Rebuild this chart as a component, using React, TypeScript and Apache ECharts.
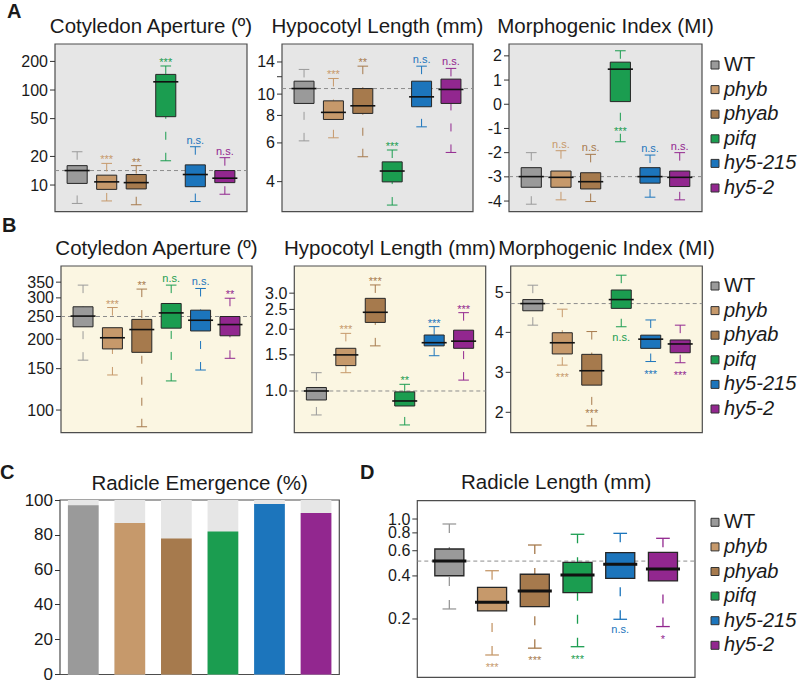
import React, { useEffect, useRef } from 'react';
import * as echarts from 'echarts';

const genotypes = ['WT', 'phyb', 'phyab', 'pifq', 'hy5-215', 'hy5-2'];
const fills = ['#9a9a9a', '#c6996b', '#a67a4d', '#1b9d50', '#1c75bc', '#92278f'];

// box statistics per genotype: [lower whisker, Q1, median, Q3, upper whisker]
const cotyledonDark = [
  [6.4, 10.4, 14.2, 16.0, 22.4],
  [6.8, 9.0, 10.8, 12.7, 16.9],
  [6.2, 9.1, 10.6, 12.9, 16.0],
  [18.0, 52.4, 122, 146, 179],
  [6.7, 9.6, 12.9, 16.3, 25.3],
  [8.0, 10.6, 11.8, 14.2, 19.4],
];
const hypocotylDark = [
  [6.13, 9.07, 10.6, 11.45, 12.95],
  [6.33, 7.67, 8.26, 9.32, 11.78],
  [5.19, 8.17, 8.85, 10.6, 13.4],
  [3.13, 3.99, 4.47, 4.92, 5.57],
  [7.1, 8.76, 9.72, 11.45, 13.4],
  [5.43, 9.07, 10.5, 11.7, 13.09],
];
const morphoDark = [
  [-4.13, -3.43, -2.99, -2.62, -2.0],
  [-3.95, -3.43, -3.02, -2.76, -1.92],
  [-4.02, -3.5, -3.2, -2.83, -2.07],
  [-1.55, 0.11, 1.45, 1.74, 2.21],
  [-3.84, -3.26, -2.99, -2.62, -2.1],
  [-3.95, -3.4, -3.02, -2.76, -2.0],
];
const cotyledonLight = [
  [163, 226, 251, 275, 340],
  [141, 182, 203, 224, 273],
  [84.9, 176, 220, 243, 327],
  [133, 223, 259, 284, 340],
  [148, 217, 241, 266, 329],
  [166, 207, 231, 250, 299],
];
const hypocotylLight = [
  [0.764, 0.904, 1.0, 1.04, 1.228],
  [1.228, 1.33, 1.5, 1.615, 1.91],
  [1.66, 2.16, 2.42, 2.83, 3.29],
  [0.683, 0.845, 0.894, 0.99, 1.078],
  [1.486, 1.66, 1.72, 1.875, 2.06],
  [1.13, 1.615, 1.75, 1.98, 2.41],
];
const morphoLight = [
  [4.18, 4.54, 4.72, 4.82, 5.18],
  [3.18, 3.46, 3.74, 3.99, 4.58],
  [1.66, 2.68, 3.04, 3.45, 4.02],
  [4.14, 4.6, 4.82, 5.06, 5.43],
  [3.27, 3.6, 3.83, 3.93, 4.31],
  [3.24, 3.49, 3.71, 3.81, 4.18],
];
const radicleEmergence = [97.0, 86.8, 77.9, 81.9, 97.7, 92.6];
const radicleLength = [
  [0.235, 0.401, 0.508, 0.617, 0.923],
  [0.112, 0.228, 0.262, 0.333, 0.435],
  [0.125, 0.244, 0.314, 0.411, 0.658],
  [0.128, 0.306, 0.406, 0.498, 0.782],
  [0.199, 0.385, 0.482, 0.582, 0.794],
  [0.177, 0.369, 0.447, 0.585, 0.733],
];

// WT reference (dashed line)
const refCotDark = 14.2;
const refHypDark = 10.6;
const refMorDark = -2.99;
const refCotLight = 250;
const refHypLight = 1.0;
const refMorLight = 4.72;
const refRadLen = 0.508;

// significance labels and where they sit ('top' | 'bottom' | value on axis)
const sigCotDark = ['', '***', '**', '***', 'n.s.', 'n.s.'];
const sigHypDark = ['', '***', '**', '***', 'n.s.', 'n.s.'];
const sigMorDark = ['', 'n.s.', 'n.s.', '***', 'n.s.', 'n.s.'];
const sigMorDarkPos: any[] = ['top', 'top', 'top', -1.0, 'top', 'top'];
const sigCotLight = ['', '***', '**', 'n.s.', 'n.s.', '**'];
const sigHypLight = ['', '***', '***', '**', '***', '***'];
const sigMorLight = ['', '***', '***', 'n.s.', '***', '***'];
const sigMorLightPos: any[] = ['bottom', 'bottom', 2.06, 'bottom', 'bottom', 'bottom'];
const sigRadLen = ['', '***', '***', '***', 'n.s.', '*'];
const sigRadLenPos: any[] = ['bottom', 'bottom', 'bottom', 'bottom', 'bottom', 'bottom'];

// tick values and labels
const ticksCotDark = [10, 20, 50, 100, 200];
const labelsCotDark = ['10', '20', '50', '100', '200'];
const ticksHypDark = [4, 6, 8, 10, 12, 14];
const labelsHypDark = ['4', '6', '8', '10', '', '14'];
const ticksMorDark = [-4, -3, -2, -1, 0, 1, 2];
const labelsMorDark = ['-4', '-3', '-2', '-1', '0', '1', '2'];
const ticksCotLight = [100, 150, 200, 250, 300, 350];
const labelsCotLight = ['100', '150', '200', '250', '300', '350'];
const ticksHypLight = [1.0, 1.5, 2.0, 2.5, 3.0];
const labelsHypLight = ['1.0', '1.5', '2.0', '2.5', '3.0'];
const ticksMorLight = [2, 3, 4, 5];
const labelsMorLight = ['2', '3', '4', '5'];
const ticksRadLen = [0.2, 0.4, 0.6, 0.8, 1.0];
const labelsRadLen = ['0.2', '0.4', '0.6', '0.8', '1.0'];

const FONT = '"Liberation Sans", Arial, sans-serif';
const XMIN = -0.75;
const XMAX = 5.75;
const BG_DARK = '#e6e6e6';
const BG_LIGHT = '#fbf6e2';

const boxPanels = [
  { title: 'Cotyledon Aperture (º)', stats: cotyledonDark, ref: refCotDark, sig: sigCotDark, sigPos: null, ticks: ticksCotDark, labels: labelsCotDark, log: true, min: 5.24, max: 305, left: 55, top: 44, width: 192, height: 167.7, bg: BG_DARK, thick: false },
  { title: 'Hypocotyl Length (mm)', stats: hypocotylDark, ref: refHypDark, sig: sigHypDark, sigPos: null, ticks: ticksHypDark, labels: labelsHypDark, log: true, min: 2.92, max: 16.9, left: 282, top: 44, width: 191, height: 167.7, bg: BG_DARK, thick: false },
  { title: 'Morphogenic Index (MI)', stats: morphoDark, ref: refMorDark, sig: sigMorDark, sigPos: sigMorDarkPos, ticks: ticksMorDark, labels: labelsMorDark, log: false, min: -4.44, max: 2.49, left: 509, top: 44, width: 193, height: 167.7, bg: BG_DARK, thick: false },
  { title: 'Cotyledon Aperture (º)', stats: cotyledonLight, ref: refCotLight, sig: sigCotLight, sigPos: null, ticks: ticksCotLight, labels: labelsCotLight, log: true, min: 80.1, max: 410, left: 61, top: 266, width: 191, height: 166.7, bg: BG_LIGHT, thick: false },
  { title: 'Hypocotyl Length (mm)', stats: hypocotylLight, ref: refHypLight, sig: sigHypLight, sigPos: null, ticks: ticksHypLight, labels: labelsHypLight, log: true, min: 0.626, max: 4.07, left: 294.3, top: 266, width: 191.4, height: 166.7, bg: BG_LIGHT, thick: false },
  { title: 'Morphogenic Index (MI)', stats: morphoLight, ref: refMorLight, sig: sigMorLight, sigPos: sigMorLightPos, ticks: ticksMorLight, labels: labelsMorLight, log: false, min: 1.49, max: 5.66, left: 510.7, top: 266, width: 191.6, height: 166.7, bg: BG_LIGHT, thick: false },
  { title: 'Radicle Length (mm)', stats: radicleLength, ref: refRadLen, sig: sigRadLen, sigPos: sigRadLenPos, ticks: ticksRadLen, labels: labelsRadLen, log: true, min: 0.0782, max: 1.343, left: 417.3, top: 500.7, width: 277.7, height: 176.6, bg: '#ffffff', thick: true },
];

function textEl(text: string, x: number, y: number, opts: any) {
  return {
    type: 'text',
    style: {
      text, x, y,
      fontFamily: FONT,
      fontSize: opts.size,
      fontStyle: opts.italic ? 'italic' : 'normal',
      fontWeight: opts.bold ? 'bold' : 'normal',
      fill: opts.color || '#1a1a1a',
      align: opts.align || 'left',
      verticalAlign: opts.valign || 'middle',
      textAlign: opts.align || 'left',
      textVerticalAlign: opts.valign || 'middle',
    },
  };
}

function buildOption() {
  const grid: any[] = [];
  const xAxis: any[] = [];
  const yAxis: any[] = [];
  const series: any[] = [];
  const graphic: any[] = [];

  boxPanels.forEach((p, gi) => {
    grid.push({ left: p.left, top: p.top, width: p.width, height: p.height, show: true, backgroundColor: p.bg, borderColor: '#4d4d4d', borderWidth: 1.2 });
    xAxis.push({ gridIndex: gi, type: 'value', min: XMIN, max: XMAX, show: false });
    yAxis.push({ gridIndex: gi, type: p.log ? 'log' : 'value', logBase: 10, min: p.min, max: p.max, show: false });
    graphic.push(textEl(p.title, p.left + p.width / 2, p.top - 19, { size: 20.5, align: 'center' }));

    // dashed reference line
    series.push({
      type: 'custom', xAxisIndex: gi, yAxisIndex: gi, clip: false, silent: true, z: 2,
      data: [[0, p.ref]],
      encode: { x: 0, y: 1 },
      renderItem: (params: any, api: any) => {
        const v = api.value(1);
        const a = api.coord([XMIN, v]);
        const b = api.coord([XMAX, v]);
        return { type: 'line', shape: { x1: a[0], y1: a[1], x2: b[0], y2: b[1] }, style: { stroke: '#8c8c8c', lineWidth: 1, lineDash: [4, 3] } };
      },
    });

    // boxes
    series.push({
      type: 'custom', xAxisIndex: gi, yAxisIndex: gi, clip: false, silent: true, z: 3,
      data: p.stats.map((s, i) => [i, s[0], s[1], s[2], s[3], s[4]]),
      encode: { x: 0, y: [1, 2, 3, 4, 5] },
      renderItem: (params: any, api: any) => {
        const idx = params.dataIndex;
        const i = api.value(0);
        const md = api.value(3);
        const c0 = api.coord([i, md]);
        const band = api.coord([i + 1, md])[0] - c0[0];
        const xc = c0[0];
        const yLo = api.coord([i, api.value(1)])[1];
        const yQ1 = api.coord([i, api.value(2)])[1];
        const yMd = c0[1];
        const yQ3 = api.coord([i, api.value(4)])[1];
        const yHi = api.coord([i, api.value(5)])[1];
        const bw = band * 0.34;
        const cw = band * (p.thick ? 0.16 : 0.18);
        const col = fills[idx];
        const wl = p.thick ? 1.3 : 1;
        const dash = p.thick ? [9, 14] : [8, 13];
        const children: any[] = [
          { type: 'line', shape: { x1: xc, y1: yHi, x2: xc, y2: yQ3 }, style: { stroke: col, lineWidth: wl, lineDash: dash } },
          { type: 'line', shape: { x1: xc - cw, y1: yHi, x2: xc + cw, y2: yHi }, style: { stroke: col, lineWidth: wl } },
          { type: 'line', shape: { x1: xc, y1: yLo, x2: xc, y2: yQ1 }, style: { stroke: col, lineWidth: wl, lineDash: dash } },
          { type: 'line', shape: { x1: xc - cw, y1: yLo, x2: xc + cw, y2: yLo }, style: { stroke: col, lineWidth: wl } },
          { type: 'rect', shape: { x: xc - bw, y: yQ3, width: bw * 2, height: yQ1 - yQ3 }, style: { fill: col, stroke: '#262626', lineWidth: p.thick ? 1.3 : 1 } },
          { type: 'line', shape: { x1: xc - bw - 2.5, y1: yMd, x2: xc + bw + 2.5, y2: yMd }, style: { stroke: '#111', lineWidth: p.thick ? 3 : 1.6 } },
        ];
        const s = p.sig[idx];
        if (s) {
          const pos = p.sigPos ? p.sigPos[idx] : 'top';
          const isStar = s.indexOf('*') >= 0;
          let ty: number;
          if (pos === 'top') ty = yHi - (isStar ? 4 : 7);
          else if (pos === 'bottom') ty = yLo + (isStar ? 12 : 10);
          else ty = api.coord([i, pos])[1] + (isStar ? 3 : 0);
          children.push(textEl(s, xc, ty, { size: 11, align: 'center', color: col }));
        }
        return { type: 'group', children };
      },
    });

    // y ticks and labels
    const labels = p.labels;
    series.push({
      type: 'custom', xAxisIndex: gi, yAxisIndex: gi, clip: false, silent: true, z: 3,
      data: p.ticks.map((v) => [XMIN, v]),
      encode: { x: 0, y: 1 },
      renderItem: (params: any, api: any) => {
        const pt = api.coord([api.value(0), api.value(1)]);
        return {
          type: 'group',
          children: [
            { type: 'line', shape: { x1: pt[0] - 5, y1: pt[1], x2: pt[0], y2: pt[1] }, style: { stroke: '#333', lineWidth: 1 } },
            textEl(labels[params.dataIndex], pt[0] - 7, pt[1], { size: 16, align: 'right' }),
          ],
        };
      },
    });
  });

  // Panel C: radicle emergence bars
  const gc = grid.length;
  grid.push({ left: 60, top: 500, width: 279.3, height: 176.7, show: true, backgroundColor: '#ffffff', borderColor: '#4d4d4d', borderWidth: 1.2 });
  xAxis.push({ gridIndex: gc, type: 'category', data: genotypes, axisLabel: { show: false }, axisTick: { show: false }, axisLine: { show: false } });
  yAxis.push({ gridIndex: gc, type: 'value', min: 0, max: 100, interval: 20, splitLine: { show: false }, axisLine: { show: false }, axisTick: { show: true, length: 5, lineStyle: { color: '#333' } }, axisLabel: { fontSize: 17, color: '#1a1a1a', fontFamily: FONT, margin: 7 } });
  series.push({
    type: 'bar', xAxisIndex: gc, yAxisIndex: gc, barWidth: '66%',
    showBackground: true, backgroundStyle: { color: '#e6e6e6' },
    data: radicleEmergence.map((v, i) => ({ value: v, itemStyle: { color: fills[i] } })),
  });
  graphic.push(textEl('Radicle Emergence (%)', 60 + 279.3 / 2, 482, { size: 20.5, align: 'center' }));

  // panel letters
  graphic.push(textEl('A', 7, 11, { size: 20, bold: true }));
  graphic.push(textEl('B', 2, 225, { size: 20, bold: true }));
  graphic.push(textEl('C', 0, 471.5, { size: 20, bold: true }));
  graphic.push(textEl('D', 360, 471.5, { size: 20, bold: true }));

  // legends
  const legendTops = [65, 286, 522.3];
  legendTops.forEach((y0) => {
    genotypes.forEach((g, i) => {
      const cy = y0 + i * 24.6;
      graphic.push({ type: 'rect', shape: { x: 711, y: cy - 4, width: 8, height: 8 }, style: { fill: fills[i], stroke: '#333', lineWidth: 1 } });
      graphic.push(textEl(g, 724, cy - 1, { size: 20, italic: i > 0 }));
    });
  });

  return {
    animation: false,
    textStyle: { fontFamily: FONT },
    grid, xAxis, yAxis, series, graphic,
  };
}

export default function App() {
  const ref = useRef<HTMLDivElement>(null);
  useEffect(() => {
    document.body.style.margin = '0';
    const chart = echarts.init(ref.current!, null, { renderer: 'svg' });
    chart.setOption(buildOption() as any);
    return () => chart.dispose();
  }, []);
  return <div ref={ref} style={{ width: 798, height: 683, position: 'absolute', left: 0, top: 0, background: '#fff' }} />;
}
